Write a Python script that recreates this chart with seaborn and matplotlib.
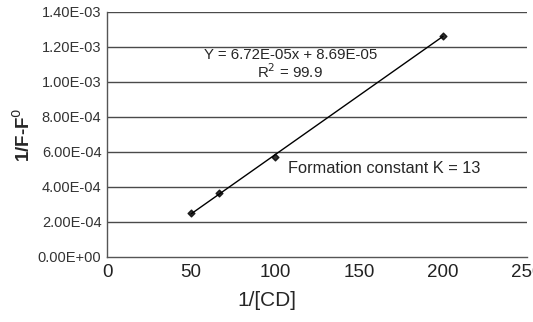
import numpy as np
import pandas as pd
import seaborn as sns
from matplotlib import pyplot as plt
from matplotlib.ticker import FuncFormatter

# values
inv_cd = [50, 66.7, 100, 200]
inv_f = [2.50e-04, 3.65e-04, 5.70e-04, 1.265e-03]
equation = "Y = 6.72E-05x + 8.69E-05"
r_squared = "R$^2$ = 99.9"
constant = "Formation constant K = 13"

df = pd.DataFrame({"x": inv_cd, "y": inv_f})

sns.set_style("white")
plt.rcParams["font.family"] = ["Liberation Sans", "DejaVu Sans"]

fig = plt.figure(figsize=(5.33, 3.22), dpi=100)
ax = fig.add_axes([0.2008, 0.2019, 0.7882, 0.7611])

for v in np.arange(2e-4, 1.41e-3, 2e-4):
    ax.axhline(v, color="#4a4a4a", lw=1.0, zorder=0)

sns.regplot(
    data=df, x="x", y="y", ax=ax, ci=None, color="black",
    marker="D", scatter_kws={"s": 12}, line_kws={"lw": 1.0},
)

ax.set_xlim(0, 250)
ax.set_ylim(0, 1.4e-3)
ax.set_xticks(range(0, 251, 50))
ax.set_yticks(np.arange(0, 1.41e-3, 2e-4))
ax.yaxis.set_major_formatter(FuncFormatter(lambda v, _: f"{v:.2E}"))
ax.tick_params(axis="y", labelsize=10.5, labelcolor="#333333", length=3, width=0.8, color="#555555", pad=1)
ax.tick_params(axis="x", labelsize=13.5, labelcolor="#222222", length=4, width=0.8, color="#555555", pad=1)
for side in ("top", "right"):
    ax.spines[side].set_visible(False)
for side in ("left", "bottom"):
    ax.spines[side].set_color("#555555")
    ax.spines[side].set_linewidth(1.0)

ax.set_xlabel("1/[CD]", fontsize=15)
ax.xaxis.set_label_coords(0.38, -0.14)
ax.set_ylabel("1/F-F$^0$", fontsize=13.5, fontweight="bold", labelpad=3)

ax.text(0.436, 0.825, equation, transform=ax.transAxes, fontsize=10.8, ha="center", va="center")
ax.text(0.436, 0.755, r_squared, transform=ax.transAxes, fontsize=10.8, ha="center", va="center")
ax.text(0.431, 0.363, constant, transform=ax.transAxes, fontsize=11.8, ha="left", va="center")

fig.savefig("out.png", dpi=100)
